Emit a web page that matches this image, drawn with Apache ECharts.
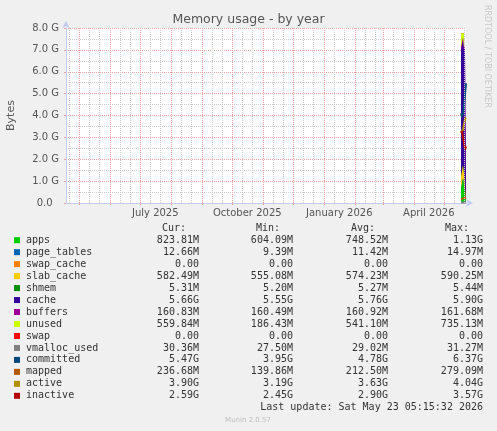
<!DOCTYPE html>
<html><head><meta charset="utf-8">
<script src="https://cdn.jsdelivr.net/npm/echarts@6/dist/echarts.min.js"></script>
<style>html,body{margin:0;padding:0;background:#f0f0f0}#c{width:497px;height:431px}</style>
</head><body><div id="c"></div>
<script>
// ---- data (MiB) ----
const times = ['2026-05-18T05:15:32Z','2026-05-19T05:15:32Z','2026-05-20T05:15:32Z','2026-05-21T05:15:32Z','2026-05-22T05:15:32Z','2026-05-23T05:15:32Z'];
const apps        = [650, 604.09, 1157.1, 770, 690, 823.81];
const pageTables  = [10, 9.39, 14.97, 11.2, 10.5, 12.66];
const swapCache   = [0, 0, 0, 0, 0, 0];
const slabCache   = [560, 555.08, 590.25, 575, 568, 582.49];
const shmem       = [5.25, 5.20, 5.44, 5.25, 5.22, 5.31];
const cache       = [5900, 6041.6, 5826, 5683, 5950, 5795.8];
const buffers     = [160.7, 160.49, 161.68, 160.9, 160.6, 160.83];
const unused      = [655, 565.2, 185.6, 735.1, 556.7, 559.84];
const swap        = [0, 0, 0, 0, 0, 0];
const vmallocUsed = [27.6, 27.5, 28.6, 29.2, 29.8, 30.36];
const committed   = [4198.4, 4044.8, 4198.4, 4556.8, 5120, 5601.3];
const mapped      = [180, 139.86, 200, 230, 279.09, 236.68];
const active      = [3328, 3266.6, 3430.4, 3686.4, 3942.4, 3993.6];
const inactive    = [3276.8, 3379.2, 3072, 2764.8, 2508.8, 2652.2];

const xLabelNames = ['July 2025','October 2025','January 2026','April 2026'];
const xLabelTimes = ['2025-07-16T12:00:00Z','2025-10-16T12:00:00Z','2026-01-16T12:00:00Z','2026-04-16T00:00:00Z'];
const monthStarts = ['2025-05-01','2025-06-01','2025-07-01','2025-08-01','2025-09-01','2025-10-01','2025-11-01','2025-12-01','2026-01-01','2026-02-01','2026-03-01','2026-04-01','2026-05-01'];
const xStart = '2025-04-18T05:15:32Z', xEnd = '2026-05-23T05:15:32Z';

const legendNames = ['apps','page_tables','swap_cache','slab_cache','shmem','cache','buffers','unused','swap','vmalloc_used','committed','mapped','active','inactive'];
const legendColors = ['#00CC00','#0066B3','#FF8000','#FFCC00','#008F00','#330099','#990099','#CCFF00','#FF0000','#808080','#00487D','#B35A00','#B38F00','#B30000'];
const curVals = ['823.81M','12.66M','0.00','582.49M','5.31M','5.66G','160.83M','559.84M','0.00','30.36M','5.47G','236.68M','3.90G','2.59G'];
const minVals = ['604.09M','9.39M','0.00','555.08M','5.20M','5.55G','160.49M','186.43M','0.00','27.50M','3.95G','139.86M','3.19G','2.45G'];
const avgVals = ['748.52M','11.42M','0.00','574.23M','5.27M','5.76G','160.92M','541.10M','0.00','29.02M','4.78G','212.50M','3.63G','2.90G'];
const maxVals = ['1.13G','14.97M','0.00','590.25M','5.44M','5.90G','161.68M','735.13M','0.00','31.27M','6.37G','279.09M','4.04G','3.57G'];

// ---- build ----
const ms = s => new Date(s).getTime();
const stacked = [apps, pageTables, swapCache, slabCache, shmem, cache, buffers, unused, swap];
const lines = [vmallocUsed, committed, mapped, active, inactive];

// cumulative tops of the stack (each area filled from 0, drawn top-first so lower ones cover)
const cum = [];
stacked.forEach((arr, i) => cum.push(arr.map((v, k) => v + (i ? cum[i - 1][k] : 0))));

const minorGridDays = ['2025-04-21'];
monthStarts.forEach(m => { minorGridDays.push(m.slice(0,8) + '11'); minorGridDays.push(m.slice(0,8) + '21'); });

const RED = '#eaa4a4', GRAY = '#cfcfcf';
const series = [];
series.push({
  type: 'line', data: [], z: 1, silent: true,
  markLine: {
    silent: true, symbol: ['none','none'], label: {show: false}, animation: false,
    data: minorGridDays.map(d => ({xAxis: ms(d + 'T00:00:00Z'), lineStyle: {color: GRAY, type: [1,1], width: 1}}))
      .concat(monthStarts.map(d => ({xAxis: ms(d + 'T00:00:00Z'), lineStyle: {color: RED, type: [1,1], width: 1}})))
  }
});
for (let i = stacked.length - 1; i >= 0; i--) {
  series.push({
    name: legendNames[i], type: 'line', data: cum[i].map((v, k) => [ms(times[k]), v]),
    showSymbol: false, symbol: 'none', silent: true,
    lineStyle: {width: 0}, areaStyle: {color: legendColors[i], opacity: 1, origin: 'start'},
    itemStyle: {color: legendColors[i]}, z: 3
  });
}
lines.forEach((arr, j) => {
  const i = stacked.length + j;
  series.push({
    name: legendNames[i], type: 'line', data: arr.map((v, k) => [ms(times[k]), v]), showSymbol: false, symbol: 'none', silent: true,
    lineStyle: {width: 2, color: legendColors[i]}, itemStyle: {color: legendColors[i]}, z: 4
  });
});

const graphic = [];
const mono = '10px "DejaVu Sans Mono"';
const txt = (x, y, text, align, font, fill) => ({
  type: 'text', x: x, y: y, silent: true,
  style: {text: text, font: font, fill: fill, align: align, verticalAlign: 'middle', textAlign: align, textVerticalAlign: 'middle'}
});
const colRight = [199, 293, 388, 483];
const headRight = [186, 280, 375, 469];
['Cur:','Min:','Avg:','Max:'].forEach((h, k) => graphic.push(txt(headRight[k], 228.5, h, 'right', mono, '#333')));
legendNames.forEach((n, i) => {
  const y = 240.2 + i * 11.97;
  graphic.push({type: 'rect', shape: {x: 14, y: y - 3, width: 6, height: 6}, style: {fill: legendColors[i]}, silent: true});
  graphic.push(txt(26, y, n, 'left', mono, '#333'));
  [curVals, minVals, avgVals, maxVals].forEach((col, k) => graphic.push(txt(colRight[k], y, col[i], 'right', mono, '#333')));
});
graphic.push(txt(483, 407.9, 'Last update: Sat May 23 05:15:32 2026', 'right', mono, '#333'));
graphic.push(txt(248, 420.5, 'Munin 2.0.57', 'center', '7px "DejaVu Sans"', '#bdbdbd'));
graphic.push({type: 'text', x: 487, y: 5, rotation: -Math.PI / 2, silent: true,
  style: {text: 'RRDTOOL / TOBI OETIKER', font: '8px "DejaVu Sans"', fill: '#c8c8c8', align: 'left', verticalAlign: 'middle', textAlign: 'left', textVerticalAlign: 'middle'}});

const chart = echarts.init(document.getElementById('c'), null, {renderer: 'canvas'});
chart.setOption({
  backgroundColor: '#f0f0f0',
  animation: false,
  title: {text: 'Memory usage - by year', left: 'center', top: 13, padding: 0,
    textStyle: {fontSize: 12.5, fontWeight: 'normal', color: '#555', fontFamily: 'DejaVu Sans'}},
  grid: {left: 66, top: 28, width: 400, height: 175, show: true, backgroundColor: '#ffffff', borderWidth: 0,
    containLabel: false, outerBoundsMode: 'none'},
  xAxis: {
    type: 'value',
    min: ms(xStart), max: ms(xEnd),
    axisLine: {show: true, lineStyle: {color: '#c4ccf2', width: 1}, symbol: ['none','arrow'], symbolSize: [6, 7], symbolOffset: [0, 7]},
    axisTick: {show: true, length: 2, lineStyle: {color: RED}, customValues: monthStarts.map(d => ms(d + 'T00:00:00Z'))},
    axisLabel: {customValues: xLabelTimes.map(ms), margin: 5, color: '#555', fontSize: 10, fontFamily: 'DejaVu Sans',
      formatter: function (v) {
        let best = 0, bd = Infinity;
        xLabelTimes.forEach((t, i) => { const d = Math.abs(ms(t) - v); if (d < bd) { bd = d; best = i; } });
        return xLabelNames[best];
      }},
    splitLine: {show: false}
  },
  yAxis: {
    type: 'value', min: 0, max: 8192, interval: 1024,
    name: 'Bytes', nameLocation: 'middle', nameGap: 49, nameRotate: 90,
    nameTextStyle: {color: '#555', fontSize: 11, fontFamily: 'DejaVu Sans'},
    axisLine: {show: true, lineStyle: {color: '#c4ccf2', width: 1}, symbol: ['none','arrow'], symbolSize: [6, 7], symbolOffset: [0, 7]},
    axisTick: {show: true, length: 2, lineStyle: {color: RED}},
    axisLabel: {margin: 7, color: '#555', fontSize: 10, fontFamily: 'DejaVu Sans',
      formatter: v => v === 0 ? '0.0  ' : (v / 1024).toFixed(1) + ' G'},
    splitLine: {show: true, lineStyle: {color: RED, type: [1,1], width: 1}},
    minorTick: {show: false, splitNumber: 2},
    minorSplitLine: {show: true, lineStyle: {color: GRAY, type: [1,1], width: 1}}
  },
  series: series,
  graphic: graphic
});
</script></body></html>
